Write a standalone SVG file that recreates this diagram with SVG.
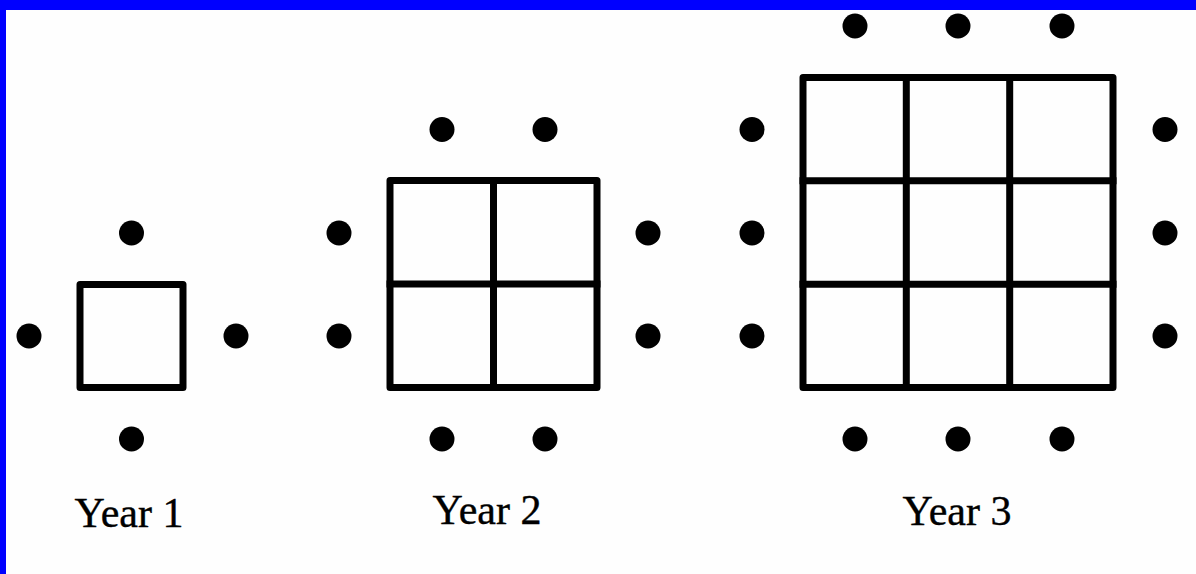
<svg xmlns="http://www.w3.org/2000/svg" width="1196" height="574" viewBox="0 0 1196 574">
<style>
.g{fill:none;stroke:#000;stroke-width:7;stroke-linejoin:round;stroke-linecap:square}
.d{fill:#000}
.t{font-family:"Liberation Serif","Times New Roman",serif;font-size:42px;fill:#000;text-anchor:middle;stroke:#000;stroke-width:0.4}
</style>
<rect x="0" y="0" width="1196" height="574" fill="#fefefe"/>
<rect x="0" y="0" width="1196" height="10" fill="#0000ff"/>
<rect x="0" y="0" width="6" height="574" fill="#0000ff"/>
<g id="year1">
<rect class="g" x="80" y="284.5" width="103" height="103"/>
<circle class="d" cx="131.5" cy="233" r="12.5"/>
<circle class="d" cx="29" cy="336" r="12.5"/>
<circle class="d" cx="236" cy="336" r="12.5"/>
<circle class="d" cx="131.5" cy="439" r="12.5"/>
<text class="t" x="129" y="527">Year 1</text>
</g>
<g id="year2">
<rect class="g" x="390" y="180.5" width="207" height="207"/>
<line class="g" x1="493.5" y1="180.5" x2="493.5" y2="387.5"/>
<line class="g" x1="390" y1="284" x2="597" y2="284"/>
<circle class="d" cx="442" cy="129.5" r="12.5"/>
<circle class="d" cx="545" cy="129.5" r="12.5"/>
<circle class="d" cx="339" cy="233" r="12.5"/>
<circle class="d" cx="339" cy="336" r="12.5"/>
<circle class="d" cx="648" cy="233" r="12.5"/>
<circle class="d" cx="648" cy="336" r="12.5"/>
<circle class="d" cx="442" cy="439" r="12.5"/>
<circle class="d" cx="545" cy="439" r="12.5"/>
<text class="t" x="487" y="524">Year 2</text>
</g>
<g id="year3">
<rect class="g" x="803" y="77.5" width="310" height="310"/>
<line class="g" x1="906.3" y1="77.5" x2="906.3" y2="387.5"/>
<line class="g" x1="1009.7" y1="77.5" x2="1009.7" y2="387.5"/>
<line class="g" x1="803" y1="180.8" x2="1113" y2="180.8"/>
<line class="g" x1="803" y1="284.2" x2="1113" y2="284.2"/>
<circle class="d" cx="855" cy="26" r="12.5"/>
<circle class="d" cx="958" cy="26" r="12.5"/>
<circle class="d" cx="1062" cy="26" r="12.5"/>
<circle class="d" cx="752" cy="129.5" r="12.5"/>
<circle class="d" cx="752" cy="233" r="12.5"/>
<circle class="d" cx="752" cy="336" r="12.5"/>
<circle class="d" cx="1165" cy="129.5" r="12.5"/>
<circle class="d" cx="1165" cy="233" r="12.5"/>
<circle class="d" cx="1165" cy="336" r="12.5"/>
<circle class="d" cx="855" cy="439" r="12.5"/>
<circle class="d" cx="958" cy="439" r="12.5"/>
<circle class="d" cx="1062" cy="439" r="12.5"/>
<text class="t" x="957" y="525">Year 3</text>
</g>
<g id="connectors"/>
</svg>
